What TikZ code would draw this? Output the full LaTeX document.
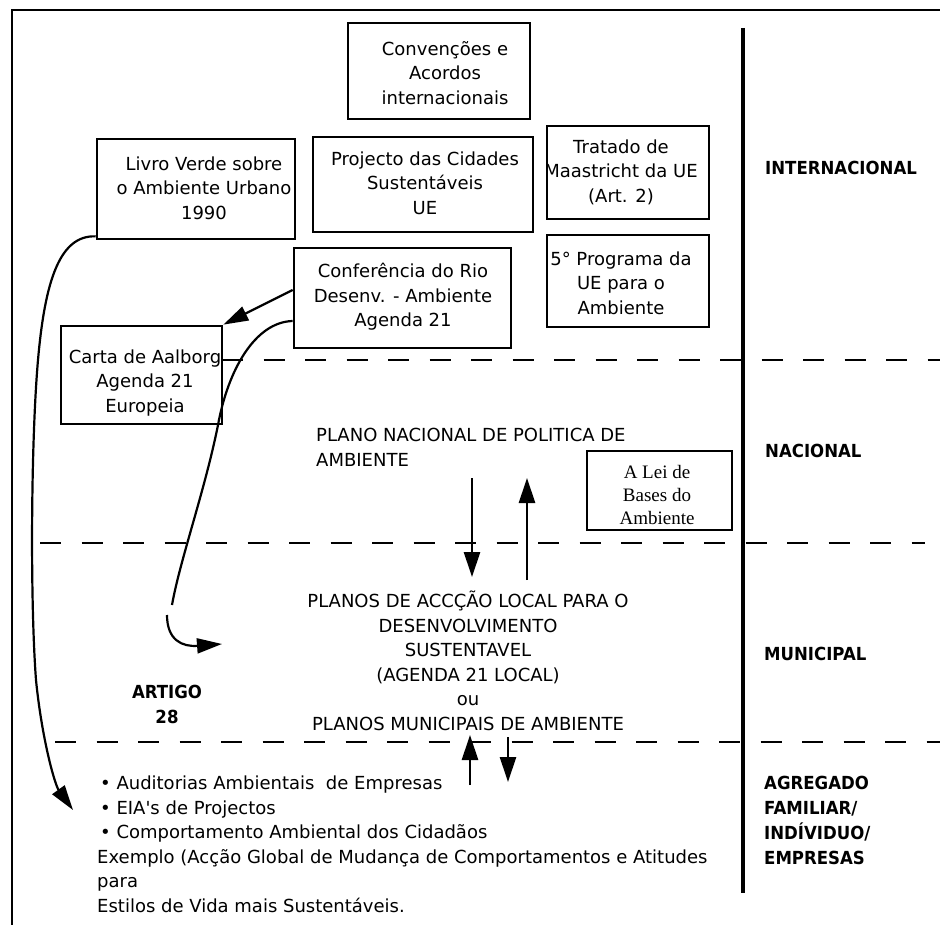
\documentclass[tikz,border=0pt]{standalone}
\usepackage{fontspec}
\usetikzlibrary{arrows.meta}
\newfontfamily\genfont{DejaVu Sans}
\newfontfamily\genbold[FakeStretch=0.92]{DejaVu Sans}
\newfontfamily\serfont{Liberation Serif}
\begin{document}
\begin{tikzpicture}[x=1pt,y=-1pt,
  box/.style={draw, line width=2.7pt, inner sep=0pt},
  txt/.style={font=\fontsize{18}{24.5}\selectfont\genfont, inner sep=0pt, align=center},
  lvl/.style={font=\fontsize{18}{25}\selectfont\genbold\bfseries, inner sep=0pt, align=left, anchor=west},
  sertxt/.style={font=\fontsize{19}{23}\selectfont\serfont, inner sep=0pt, align=center},
  arr/.style={line width=2.7pt, -{Triangle[length=25pt,width=16pt]}},
  curv/.style={line width=2.2pt},
  curvarr/.style={line width=2.2pt, -{Triangle[length=25pt,width=15pt]}},
  dline/.style={line width=2.2pt, dash pattern=on 21pt off 20.5pt},
  frame/.style={line width=2.5pt}
]
\useasboundingbox (0,0) rectangle (940,925);
\fill[white] (0,0) rectangle (940,925);

% frame and separators
\draw[frame] (940,10) -- (12,10) -- (12,925);
\draw[line width=3.5pt] (743,28) -- (743,893);
\draw[dline] (222,360) -- (940,360);
\draw[dline] (40,543) -- (925,543);
\draw[dline] (55,742) -- (940,742);

% boxes
\node[box, minimum width=182pt, minimum height=96pt] (conv) at (439,71) {};
\node[box, minimum width=198pt, minimum height=100pt] (livro) at (196,189) {};
\node[box, minimum width=220pt, minimum height=95pt] (proj) at (423,184.5) {};
\node[box, minimum width=162pt, minimum height=93pt] (trat) at (628,172.5) {};
\node[box, minimum width=162pt, minimum height=92pt] (prog) at (628,281) {};
\node[box, minimum width=217pt, minimum height=100pt] (conf) at (402.5,298) {};
\node[box, minimum width=161pt, minimum height=98pt] (carta) at (141.5,375) {};
\node[box, minimum width=145pt, minimum height=79pt] (lei) at (659.5,490.5) {};

% box texts
\node[txt] (convT) at (445,73) {Convenções e\\Acordos\\internacionais};
\node[txt] (livroT) at (204,188) {Livro Verde sobre\\o Ambiente Urbano\\1990};
\node[txt] (projT) at (425,183) {Projecto das Cidades\\Sustentáveis\\UE};
\node[txt] (tratT) at (621,172) {Tratado de\\Maastricht da UE\\(Art. 2)};
\node[txt] (progT) at (621,283) {5° Programa da\\UE para o\\Ambiente};
\node[txt] (confT) at (403,297) {Conferência do Rio\\Desenv. - Ambiente\\Agenda 21};
\node[txt] (cartaT) at (145,383) {Carta de Aalborg\\Agenda 21\\Europeia};
\node[sertxt] (leiT) at (657,495) {A Lei de\\Bases do\\Ambiente};

% level labels
\node[lvl] (intl) at (765,168) {INTERNACIONAL};
\node[lvl] (nac) at (765,451) {NACIONAL};
\node[lvl] (mun) at (764,654) {MUNICIPAL};
\node[lvl] (agr) at (764,820.5) {AGREGADO\\FAMILIAR/\\INDÍVIDUO/\\EMPRESAS};

% central texts
\node[txt, align=left, anchor=west] (pnac) at (316,447.5) {PLANO NACIONAL DE POLITICA DE\\AMBIENTE};
\node[txt] (plocal) at (468,661) {PLANOS DE ACCÇÃO LOCAL PARA O\\DESENVOLVIMENTO\\SUSTENTAVEL\\(AGENDA 21 LOCAL)\\ou\\PLANOS MUNICIPAIS DE AMBIENTE};
\node[txt, font=\fontsize{18}{25}\selectfont\genbold\bfseries] (art) at (167,704.5) {ARTIGO\\28};
\node[txt, align=left, anchor=west] (bul) at (97,844.5) {\,• Auditorias Ambientais\ \ de Empresas\\\,• EIA's de Projectos\\\,• Comportamento Ambiental dos Cidadãos\\Exemplo (Acção Global de Mudança de Comportamentos e Atitudes\\para\\Estilos de Vida mais Sustentáveis.};

% coordinates
\coordinate (d1s) at (472,478); \coordinate (d1e) at (472,577);
\coordinate (u1s) at (527,580); \coordinate (u1e) at (527,478);
\coordinate (u2s) at (470,785); \coordinate (u2e) at (470,735);
\coordinate (d2s) at (508,737); \coordinate (d2e) at (508,782);
\coordinate (c2e) at (172,605);
\coordinate (artS) at (167,615); \coordinate (artE) at (222,644);
\coordinate (lcend) at (73,810);

% connectors
\draw[arr] (d1s) -- (d1e);
\draw[arr] (u1s) -- (u1e);
\draw[arr] (u2s) -- (u2e);
\draw[arr] (d2s) -- (d2e);
\draw[curvarr] ([yshift=8pt]conf.west) -- (carta.north east);
\draw[curv] ([yshift=-23pt]conf.west) .. controls (255,322) and (228,370) .. (218,425) .. controls (205,490) and (180,560) .. (c2e);
\draw[curvarr] (artS) .. controls (167,640) and (182,647) .. (artE);
\draw[curvarr] ([yshift=4pt]livro.south west) .. controls (60,235) and (45,280) .. (38,360) .. controls (31,440) and (30,600) .. (36,680) .. controls (42,740) and (55,785) .. (lcend);
\end{tikzpicture}
\end{document}
